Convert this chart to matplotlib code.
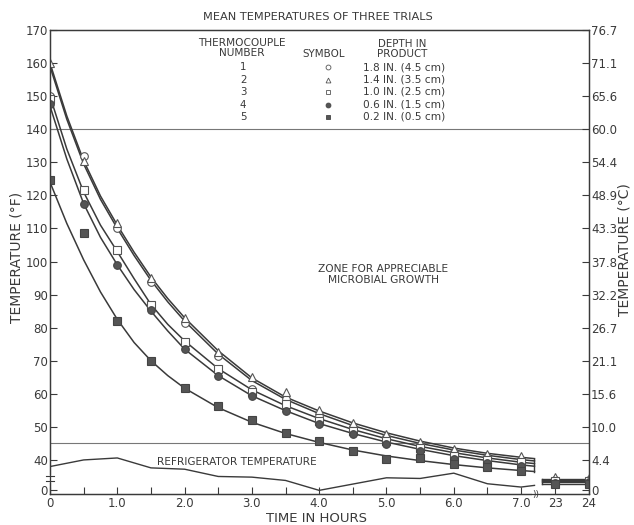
import numpy as np
import matplotlib.pyplot as plt
from matplotlib.ticker import FixedLocator, FixedFormatter
import matplotlib.transforms as mtransforms

plt.rcParams['font.family'] = 'DejaVu Sans'

# measured points (deg F), every half hour
hours = [0, 0.5, 1.0, 1.5, 2.0, 2.5, 3.0, 3.5, 4.0, 4.5, 5.0, 5.5, 6.0, 6.5, 7.0]
tc1 = [150, 132, 110.2, 93.8, 81.5, 71.5, 61.4, 58.4, 53.4, 50.1, 46.8, 44.5, 42.3, 41.0, 40.0]
tc2 = [160, 130.5, 111.5, 95.0, 83.0, 72.5, 65.2, 60.4, 55.0, 51.1, 47.8, 45.5, 43.3, 41.8, 41.1]
tc3 = [149, 121.5, 103.5, 86.8, 75.8, 67.6, 60.5, 56.9, 51.8, 48.8, 45.8, 43.5, 41.3, 40.0, 39.5]
tc4 = [147.5, 117.5, 99.0, 85.2, 73.5, 65.4, 59.2, 54.9, 50.8, 47.8, 44.8, 42.8, 40.3, 39.0, 38.3]
tc5 = [124.5, 108.5, 82.0, 70.0, 61.7, 56.4, 52.1, 48.1, 45.7, 42.8, 40.3, 40.5, 38.8, 37.8, 36.8]

# next day readings
late_hours = [23, 24]
tc1_late = [34.0, 33.8]
tc2_late = [34.8, 34.5]
tc3_late = [33.5, 33.5]
tc4_late = [33.0, 33.2]
tc5_late = [32.8, 32.8]

# fitted curves as drawn
fit_hours = [0, 0.25, 0.5, 0.75, 1.0, 1.25, 1.5, 1.75, 2.0, 2.5, 3.0, 3.5, 4.0, 4.5,
             5.0, 5.5, 6.0, 6.5, 7.0, 7.2]
fit1 = [159, 143, 129.5, 118.8, 110, 101.8, 94.3, 87.8, 82, 72, 64, 58.3, 54, 50.4,
        47.4, 45, 43, 41.4, 40.1, 39.7]
fit2 = [160, 144, 130.5, 119.8, 111, 102.8, 95.3, 88.8, 83, 73, 64.8, 59, 54.8, 51.2,
        48.2, 45.7, 43.6, 42, 40.8, 40.4]
fit3 = [150, 134, 121, 111, 103, 94.8, 87, 81, 76, 67.6, 61.2, 56.4, 52.5, 49.2,
        46.4, 44.1, 42.2, 40.6, 39.3, 38.9]
fit4 = [147, 131, 117.5, 107.3, 99, 91.5, 85, 79, 73.5, 65.5, 59.4, 54.9, 51, 48,
        45.4, 43.2, 41.3, 39.8, 38.5, 38.1]
fit5 = [124, 111.5, 100.5, 90.8, 82.5, 75.5, 70, 65.5, 61.7, 55.8, 51.4, 48, 45.3, 43,
        41.2, 39.8, 38.6, 37.6, 36.8, 36.5]
fit_late_hours = [22.6, 24]
fit_late = [34.3, 34.0, 33.6, 33.2, 32.8]

fridge_hours = [0, 0.5, 1.0, 1.5, 2.0, 2.5, 3.0, 3.5, 4.0, 4.5, 5.0, 5.5, 6.0, 6.5, 7.0, 7.2]
fridge = [38, 40, 40.6, 37.6, 37.2, 35, 34.8, 33.8, 30.8, 32.7, 34.6, 34.4, 36, 32.8, 31.8, 32.3]

numbers = ['1', '2', '3', '4', '5']
depths = ['1.8 IN. (4.5 cm)', '1.4 IN. (3.5 cm)', '1.0 IN. (2.5 cm)',
          '0.6 IN. (1.5 cm)', '0.2 IN. (0.5 cm)']

f_ticks = [40, 50, 60, 70, 80, 90, 100, 110, 120, 130, 140, 150, 160, 170]
f_labels = ['40', '50', '60', '70', '80', '90', '100', '110', '120', '130', '140',
            '150', '160', '170']
c_labels = ['4.4', '10.0', '15.6', '21.1', '26.7', '32.2', '37.8', '43.3', '48.9',
            '54.4', '60.0', '65.6', '71.1', '76.7']
x_major = [0, 1, 2, 3, 4, 5, 6, 7, 23, 24]
x_major_labels = ['0', '1.0', '2.0', '3.0', '4.0', '5.0', '6.0', '7.0', '23', '24']
x_minor = [0.5, 1.5, 2.5, 3.5, 4.5, 5.5, 6.5]

INK = '#3a3a3a'
y_bottom = 29.7
y_zero = 31.0   # where the "0" label sits below the axis break

# broken time axis: 7.25..22.5 h squeezed out, second day at half scale
tk = [-10, 7.25, 22.5, 30]
pk = [-10, 7.25, 7.26, 11.01]
def fwd(t):
    return np.interp(t, tk, pk)
def inv(p):
    return np.interp(p, pk, tk)

fig = plt.figure(figsize=(6.34, 5.25), dpi=100)
ax = fig.add_axes([50 / 634, 1 - 494 / 525, 539 / 634, 464 / 525])
ax.set_xscale('function', functions=(fwd, inv))
ax.set_xlim(0, 24)
ax.set_ylim(y_bottom, 170)

# zone lines
ax.axhline(140, color='#777', lw=0.8)
ax.axhline(45, color='#777', lw=0.8)

for fit in [fit1, fit2, fit3, fit4, fit5]:
    ax.plot(fit_hours, fit, color=INK, lw=1.1)
for v in fit_late:
    ax.plot(fit_late_hours, [v, v], color=INK, lw=1.0)
ax.plot([7.2, 7.2], [fit5[-1], fit2[-1]], color=INK, lw=1.0)
ax.plot([22.6, 22.6], [fit_late[-1], fit_late[0]], color=INK, lw=1.0)

ax.plot(fridge_hours, fridge, color=INK, lw=1.0)

styles = [
    dict(marker='o', mfc='white', mec='#555'),
    dict(marker='^', mfc='white', mec='#555'),
    dict(marker='s', mfc='white', mec='#555'),
    dict(marker='o', mfc='#555', mec='#444'),
    dict(marker='s', mfc='#555', mec='#444'),
]
series = [(tc1, tc1_late), (tc2, tc2_late), (tc3, tc3_late), (tc4, tc4_late), (tc5, tc5_late)]
for (vals, late), st in zip(series, styles):
    ax.plot(hours, vals, ls='none', ms=5.5, mew=0.8, zorder=3, **st)
    ax.plot(late_hours, late, ls='none', ms=5.5, mew=0.8, zorder=3, **st)

# legend table
ax.text(2.85, 164.6, 'THERMOCOUPLE\nNUMBER', ha='center', va='center', fontsize=7.6,
        color=INK, linespacing=1.0)
ax.text(4.07, 162.6, 'SYMBOL', ha='center', va='center', fontsize=7.4, color=INK)
ax.text(5.23, 164.3, 'DEPTH IN\nPRODUCT', ha='center', va='center', fontsize=7.4,
        color=INK, linespacing=1.0)
rows = [158.8, 154.9, 151.3, 147.4, 143.8]
for num, depth, yv, st in zip(numbers, depths, rows, styles):
    ax.text(2.87, yv, num, ha='center', va='center', fontsize=7.4, color=INK)
    ax.plot([4.13], [yv], ls='none', ms=3.5, mew=0.6, **st)
    ax.text(4.65, yv, depth, ha='left', va='center', fontsize=7.6, color=INK)

ax.text(4.95, 96, 'ZONE FOR APPRECIABLE\nMICROBIAL GROWTH', ha='center', va='center',
        fontsize=7.7, color=INK, linespacing=1.15)
ax.text(2.78, 39.4, 'REFRIGERATOR TEMPERATURE', ha='center', va='center',
        fontsize=7.6, color=INK)

# ticks
ax.yaxis.set_major_locator(FixedLocator([y_zero] + f_ticks))
ax.yaxis.set_major_formatter(FixedFormatter(['0'] + f_labels))
ax.xaxis.set_major_locator(FixedLocator(x_major))
ax.xaxis.set_major_formatter(FixedFormatter(x_major_labels))
ax.xaxis.set_minor_locator(FixedLocator(x_minor))
ax.tick_params(axis='both', which='both', direction='in', length=5, width=0.8,
               color=INK, labelcolor=INK, labelsize=8.5)
ax.tick_params(axis='y', pad=1.5)
ax.tick_params(axis='x', pad=2)

ax2 = ax.twinx()
ax2.set_ylim(y_bottom, 170)
ax2.yaxis.set_major_locator(FixedLocator([y_zero] + f_ticks))
ax2.yaxis.set_major_formatter(FixedFormatter(['0'] + c_labels))
ax2.tick_params(axis='y', direction='in', length=5, width=0.8, color=INK,
                labelcolor=INK, labelsize=8.5, pad=1.5)

for a in (ax, ax2):
    for s in a.spines.values():
        s.set_color(INK)
        s.set_linewidth(0.9)

# axis breaks
trans_y = mtransforms.blended_transform_factory(ax.transAxes, ax.transData)
ax.plot([0, 0], [33.6, 35.0], color='white', lw=2, transform=trans_y, clip_on=False, zorder=5)
for yb in (33.6, 35.0):
    ax.plot([-0.008, 0.008], [yb, yb], color=INK, lw=0.8, transform=trans_y,
            clip_on=False, zorder=6)
trans_x = mtransforms.blended_transform_factory(ax.transData, ax.transAxes)
ax.text(7.22, 0.0, '))', ha='center', va='center', fontsize=6.5, color=INK,
        transform=trans_x, zorder=6,
        bbox=dict(boxstyle='square,pad=0.05', fc='white', ec='none'))

fig.text(318 / 634, 1 - 17 / 525, 'MEAN TEMPERATURES OF THREE TRIALS', ha='center',
         va='center', fontsize=8.2, color=INK)
fig.text(317 / 634, 1 - 518 / 525, 'TIME IN HOURS', ha='center', va='center',
         fontsize=9.5, color=INK)
fig.text(17 / 634, 1 - 257 / 525, 'TEMPERATURE (°F)', ha='center', va='center',
         rotation=90, fontsize=10, color=INK)
fig.text(625 / 634, 1 - 250 / 525, 'TEMPERATURE (°C)', ha='center', va='center',
         rotation=90, fontsize=10, color=INK)

fig.savefig('out.png', dpi=100)
